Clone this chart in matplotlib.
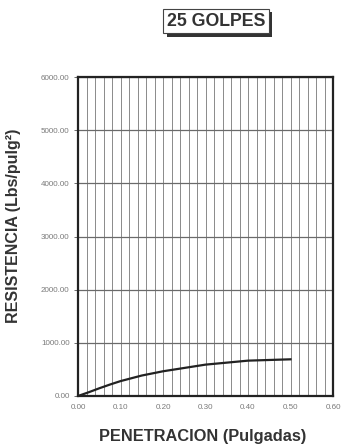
import matplotlib
matplotlib.use("Agg")
import matplotlib.pyplot as plt
import matplotlib.patheffects as pe
import numpy as np

# Penetration (inches) vs. resistance (lbs/in^2), 25 blows
penetracion = [0.000, 0.025, 0.050, 0.075, 0.100, 0.150, 0.200, 0.300, 0.400, 0.500]
resistencia = [0, 70, 145, 215, 280, 385, 465, 590, 665, 690]

x_ticks = [0.0, 0.1, 0.2, 0.3, 0.4, 0.5, 0.6]
x_tick_labels = ["0.00", "0.10", "0.20", "0.30", "0.40", "0.50", "0.60"]
y_ticks = [0, 1000, 2000, 3000, 4000, 5000, 6000]
y_tick_labels = ["0.00", "1000.00", "2000.00", "3000.00", "4000.00", "5000.00", "6000.00"]

plt.rcParams["font.family"] = ["Liberation Sans", "DejaVu Sans"]

fig = plt.figure(figsize=(3.41, 4.45), dpi=100)
ax = fig.add_axes([78 / 341, 49 / 445, 255 / 341, 319 / 445])

ax.set_xlim(0, 0.6)
ax.set_ylim(0, 6000)

# fine vertical grid every 0.02 in, horizontal grid every 1000
ax.set_xticks(np.arange(0, 0.6001, 0.02), minor=True)
ax.set_xticks(x_ticks)
ax.set_xticklabels(x_tick_labels)
ax.set_yticks(y_ticks)
ax.set_yticklabels(y_tick_labels)
ax.grid(which="minor", axis="x", color="#8a8a8a", linewidth=0.7)
ax.grid(which="major", axis="x", color="#8a8a8a", linewidth=0.7)
ax.grid(which="major", axis="y", color="#6a6a6a", linewidth=0.9)
ax.tick_params(axis="both", which="major", labelsize=5.8, labelcolor="#7a7a7a",
               color="#555555", length=3, width=0.6, pad=3)
ax.tick_params(axis="x", which="minor", length=0)
ax.tick_params(axis="x", which="major", length=0, pad=6)

for s in ax.spines.values():
    s.set_linewidth(1.6)
    s.set_color("#222222")

ax.plot(penetracion, resistencia, color="#222222", linewidth=1.6)

ax.set_xlabel("PENETRACION (Pulgadas)", fontsize=11.8, fontweight="bold",
              color="#333333")
ax.xaxis.set_label_coords(0.49, -0.104)
ax.set_ylabel("RESISTENCIA (Lbs/pulg²)", fontsize=11.5, fontweight="bold",
              color="#333333")
ax.yaxis.set_label_coords(-0.225, 0.533)

t = fig.text(216 / 341, 1 - 21 / 445, "25 GOLPES", ha="center", va="center",
             fontsize=12.8, fontweight="bold", color="#333333",
             bbox=dict(boxstyle="square,pad=0.2", fc="white", ec="#444444", lw=0.8))
t.get_bbox_patch().set_path_effects([
    pe.SimplePatchShadow(offset=(2.5, -2.5), shadow_rgbFace="#333333", alpha=1.0),
    pe.Normal(),
])

fig.savefig("out.png", dpi=100)
